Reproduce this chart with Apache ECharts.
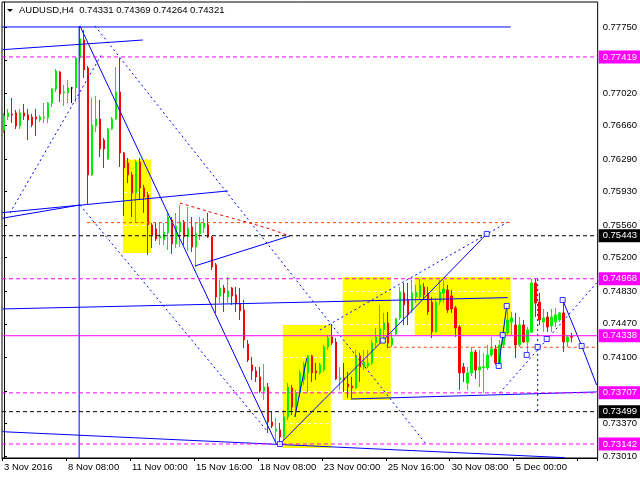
<!DOCTYPE html>
<html><head><meta charset="utf-8">
<script src="https://cdn.jsdelivr.net/npm/echarts@6/dist/echarts.min.js"></script>
<style>html,body{margin:0;padding:0;background:#fff}#c{width:640px;height:480px}</style>
</head><body><div id="c"></div>
<script>
const N_BARS = 149;
const xTickLabels = ['3 Nov 2016','8 Nov 08:00','11 Nov 00:00','15 Nov 16:00','18 Nov 08:00','23 Nov 00:00','25 Nov 16:00','30 Nov 08:00','5 Dec 00:00'];
const yTickValues = [0.77750,0.77380,0.77020,0.76660,0.76290,0.75930,0.75560,0.75200,0.74830,0.74470,0.74100,0.73730,0.73370,0.73010];
const yMin = 0.72987, yMax = 0.78026;

const opens = [0.76612,0.76756,0.76789,0.76800,0.76656,0.76800,0.76778,0.76756,0.76756,0.76722,
0.76744,0.76744,0.76910,0.77065,0.77253,0.77021,0.77021,0.77076,0.77076,0.77407,
0.77606,0.77297,0.76115,0.76656,0.76733,0.76501,0.76291,0.76623,0.76733,0.77032,
0.76358,0.76247,0.76115,0.75916,0.76258,0.75971,0.75894,0.75562,0.75518,0.75418,
0.75396,0.75474,0.75617,0.75352,0.75485,0.75595,0.75430,0.75540,0.75319,0.75463,
0.75529,0.75562,0.75430,0.75120,0.74778,0.74866,0.74766,0.74866,0.74789,0.74689,
0.74623,0.74247,0.74015,0.73949,0.73883,0.73728,0.73772,0.73385,0.73286,0.73297,
0.73219,0.73441,0.73761,0.73551,0.73706,0.73849,0.73927,0.74115,0.73949,0.73927,
0.73960,0.74214,0.74325,0.74269,0.73849,0.73871,0.73805,0.73783,0.73761,0.74115,
0.73993,0.74004,0.74037,0.74258,0.74325,0.74402,0.74479,0.74236,0.74358,0.74534,
0.74811,0.74733,0.74623,0.74766,0.74766,0.74877,0.74811,0.74711,0.74380,0.74711,
0.74811,0.74844,0.74778,0.74645,0.74435,0.73993,0.73816,0.73927,0.74159,0.73960,
0.73982,0.73982,0.74126,0.74192,0.74037,0.74236,0.74369,0.74490,0.74457,0.74236,
0.74457,0.74269,0.74380,0.74921,0.74711,0.74490,0.74545,0.74446,0.74490,0.74512,
0.74590,0.74269,0.74331];
const highs = [0.76800,0.76844,0.76965,0.76833,0.76844,0.76899,0.76844,0.76789,0.76844,0.76778,
0.76910,0.76921,0.77076,0.77286,0.77264,0.77109,0.77164,0.77087,0.77419,0.77760,
0.77717,0.77319,0.76965,0.76988,0.76943,0.76523,0.76634,0.76756,0.77308,0.77407,
0.76369,0.76302,0.76148,0.76280,0.76302,0.76004,0.75927,0.75584,0.75584,0.75584,
0.75584,0.75695,0.75650,0.75695,0.75783,0.75617,0.75761,0.75650,0.75584,0.75650,
0.75639,0.75695,0.75441,0.75142,0.74954,0.74899,0.74987,0.74877,0.74877,0.74866,
0.74733,0.74291,0.74104,0.73993,0.73993,0.74026,0.73816,0.73496,0.73429,0.73374,
0.73518,0.73816,0.73794,0.73739,0.73960,0.74048,0.74126,0.74126,0.74037,0.74037,
0.74236,0.74347,0.74457,0.74313,0.73993,0.74037,0.73938,0.73883,0.74181,0.74148,
0.74181,0.74181,0.74291,0.74424,0.74678,0.74590,0.74601,0.74369,0.74534,0.74877,
0.74921,0.74921,0.74954,0.74899,0.74965,0.74921,0.74877,0.74766,0.74755,0.74954,
0.74954,0.74899,0.74844,0.74667,0.74457,0.74037,0.73993,0.74214,0.74181,0.74181,
0.74148,0.74236,0.74325,0.74236,0.74291,0.74435,0.74645,0.74601,0.74590,0.74545,
0.74512,0.74435,0.74965,0.74965,0.74811,0.74634,0.74601,0.74634,0.74645,0.74601,
0.74755,0.74347,0.74369];
const lows = [0.76579,0.76722,0.76689,0.76623,0.76623,0.76722,0.76501,0.76645,0.76546,0.76700,
0.76689,0.76689,0.76866,0.77032,0.76921,0.76877,0.76910,0.76910,0.76921,0.77363,
0.77186,0.75783,0.76104,0.76590,0.76313,0.76192,0.76280,0.76612,0.76722,0.76203,
0.75662,0.76026,0.75650,0.75584,0.75838,0.75695,0.75231,0.75308,0.75385,0.75341,
0.75341,0.75286,0.75242,0.75308,0.75319,0.75341,0.75275,0.75264,0.75098,0.75396,
0.75474,0.75418,0.75065,0.74590,0.74700,0.74601,0.74700,0.74678,0.74601,0.74512,
0.74203,0.74048,0.73849,0.73827,0.73706,0.73628,0.73264,0.73319,0.73164,0.73142,
0.73186,0.73407,0.73463,0.73441,0.73662,0.73794,0.73706,0.73827,0.73849,0.73905,
0.73938,0.74181,0.74236,0.73849,0.73739,0.73717,0.73650,0.73650,0.73750,0.73827,
0.73960,0.73982,0.74015,0.74214,0.74258,0.74291,0.74203,0.74214,0.74347,0.74512,
0.74457,0.74457,0.74590,0.74700,0.74733,0.74733,0.74568,0.74313,0.74369,0.74678,
0.74700,0.74590,0.74590,0.74325,0.73739,0.73827,0.73739,0.73894,0.73860,0.73772,
0.73706,0.73960,0.74104,0.74015,0.74015,0.74214,0.74347,0.74347,0.74092,0.74214,
0.74258,0.74159,0.74369,0.74545,0.74457,0.74380,0.74380,0.74380,0.74435,0.74490,
0.74159,0.74214,0.74264];
const closes = [0.76767,0.76800,0.76778,0.76656,0.76800,0.76767,0.76722,0.76667,0.76733,0.76756,
0.76756,0.76910,0.77065,0.77264,0.77010,0.77032,0.77076,0.77076,0.77407,0.77617,
0.77275,0.76115,0.76667,0.76733,0.76402,0.76402,0.76623,0.76733,0.77032,0.76358,
0.76192,0.76115,0.75916,0.76258,0.75971,0.75871,0.75562,0.75452,0.75407,0.75441,
0.75485,0.75650,0.75352,0.75551,0.75595,0.75430,0.75529,0.75319,0.75463,0.75584,
0.75584,0.75430,0.75098,0.74766,0.74866,0.74811,0.74833,0.74778,0.74700,0.74612,
0.74291,0.74070,0.73949,0.73883,0.73728,0.73772,0.73385,0.73341,0.73308,0.73219,
0.73441,0.73772,0.73551,0.73706,0.73927,0.74026,0.74115,0.73927,0.73927,0.74015,
0.74214,0.74313,0.74258,0.73860,0.73871,0.73849,0.73772,0.73761,0.74104,0.73993,
0.74048,0.74037,0.74258,0.74325,0.74413,0.74479,0.74258,0.74313,0.74523,0.74822,
0.74678,0.74568,0.74811,0.74822,0.74899,0.74789,0.74601,0.74380,0.74711,0.74822,
0.74855,0.74623,0.74634,0.74424,0.73927,0.73927,0.73927,0.74159,0.73960,0.73993,
0.73993,0.74126,0.74192,0.74037,0.74236,0.74369,0.74512,0.74534,0.74236,0.74457,
0.74269,0.74402,0.74921,0.74700,0.74512,0.74534,0.74435,0.74545,0.74568,0.74590,
0.74269,0.74325,0.74321];
const dojiBars = [17];

// horizontal levels (price, colour, style)
const hLevels = [0.77419, 0.75443, 0.74968, 0.74338, 0.73707, 0.73499, 0.73142];
const hLevelColors = ['#ff00ff','#000000','#ff00ff','#ff00ff','#ff00ff','#000000','#ff00ff'];
const hLevelTypes = ['dashed','dashed','dashed','solid','dashed','dashed','dashed'];

// yellow boxes [barFrom, priceTop, barTo, priceBottom]
const boxes = [
  [29.75, 0.76291, 36.75, 0.75253],
  [69.75, 0.74457, 81.75, 0.73098],
  [84.75, 0.74987, 96.75, 0.73628],
  [102.75, 0.74987, 126.75, 0.74347]
];

// trend lines in (bar, price)
const solidLines = [
  [[-0.5,0.77750],[126.75,0.77750]],
  [[-0.5,0.77499],[34.75,0.77606]],
  [[18.8,0.77761],[18.8,0.72987]],
  [[19,0.77761],[68.25,0.73131]],
  [[-0.5,0.75698],[56,0.75938]],
  [[-0.5,0.75636],[19,0.75783]],
  [[-0.5,0.74634],[126,0.74759]],
  [[-0.5,0.73278],[140.25,0.72991]],
  [[86.75,0.73639],[148.25,0.73717]],
  [[47.75,0.75109],[71.5,0.75441]],
  [[72.75,0.73441],[75.75,0.74092]],
  [[123.75,0.74004],[125.75,0.74667]],
  [[139.75,0.74733],[144.5,0.74225],[148.25,0.73794]],
  [[69,0.73142],[94.75,0.74285],[120.75,0.75463]]
];
const dottedLines = [
  [[1.5,0.75695],[24.5,0.77452]],
  [[22.75,0.77761],[105.75,0.73131]],
  [[19,0.75783],[66,0.73275]],
  [[79,0.74402],[126.5,0.75606]],
  [[124,0.73706],[148.25,0.74921]],
  [[133.5,0.74965],[133.5,0.73474]]
];
const squarePoints = [[69,0.73142],[94.75,0.74285],[120.75,0.75463],[123.75,0.74004],[124.75,0.74347],[125.75,0.74667],
  [130.75,0.74126],[133.5,0.74214],[135.75,0.74302],[139.75,0.74733],[144.5,0.74225]];
const redArc = [[44,0.75805],[51.5,0.75706],[61.5,0.75584],[66.5,0.75518],[71.5,0.75441]];
const orangeLines = [
  [[20.75,0.75588],[126.5,0.75588]],
  [[96,0.74211],[148.25,0.74211]]
];

const UP = '#00ee00', DOWN = '#ff0000';
const FONT = 'Liberation Sans';

const categories = [];
for (let i = 0; i < N_BARS; i++) categories.push(String(i));

const candleData = opens.map((o, i) => {
  const item = { value: [o, closes[i], lows[i], highs[i]] };
  if (dojiBars.includes(i)) item.itemStyle = { color:'#000', color0:'#000', borderColor:'#000', borderColor0:'#000' };
  return item;
});

const series = [];
// yellow boxes
series.push({
  type: 'custom', xAxisIndex: 1, yAxisIndex: 0, z: 1, silent: true,
  data: boxes,
  encode: { x: [0, 2], y: [1, 3] },
  renderItem: (params, api) => {
    const p1 = api.coord([api.value(0), api.value(1)]);
    const p2 = api.coord([api.value(2), api.value(3)]);
    return { type: 'rect', shape: { x: Math.min(p1[0], p2[0]), y: Math.min(p1[1], p2[1]),
      width: Math.abs(p2[0] - p1[0]), height: Math.abs(p2[1] - p1[1]) }, style: { fill: '#ffff00' } };
  }
});
// dashed price grid clipped to the boxes (white, so it only shows over the yellow)
const gridSegs = [];
boxes.forEach(b => yTickValues.forEach(v => { if (v < b[1] && v > b[3]) gridSegs.push([b[0], v, b[2], v]); }));
series.push({
  type: 'custom', xAxisIndex: 1, yAxisIndex: 0, z: 1.5, silent: true,
  data: gridSegs,
  encode: { x: [0, 2], y: [1, 3] },
  renderItem: (params, api) => {
    const a = api.coord([api.value(0), api.value(1)]);
    const b = api.coord([api.value(2), api.value(3)]);
    const yy = Math.round(a[1]) + 0.5;
    return { type: 'line', shape: { x1: a[0] + 1, y1: yy, x2: b[0] - 1, y2: yy },
      style: { stroke: '#ffffff', lineWidth: 1, lineDash: [3, 3], fill: null } };
  }
});
series.push({
  type: 'candlestick', xAxisIndex: 0, yAxisIndex: 0, barWidth: 2, z: 2,
  data: candleData,
  itemStyle: { color: UP, color0: DOWN, borderColor: UP, borderColor0: DOWN, borderWidth: 1 }
});
solidLines.forEach(seg => series.push({
  type: 'line', xAxisIndex: 1, yAxisIndex: 0, data: seg, symbol: 'none', z: 4, silent: true,
  lineStyle: { color: '#0000ff', width: 1 }
}));
dottedLines.forEach(seg => series.push({
  type: 'line', xAxisIndex: 1, yAxisIndex: 0, data: seg, symbol: 'none', z: 4, silent: true,
  lineStyle: { color: '#0000ff', width: 1, type: [2, 3] }
}));
series.push({
  type: 'line', xAxisIndex: 1, yAxisIndex: 0, data: redArc, symbol: 'none', z: 4, silent: true,
  lineStyle: { color: '#e00000', width: 1, type: [3, 3] }
});
orangeLines.forEach(seg => series.push({
  type: 'line', xAxisIndex: 1, yAxisIndex: 0, data: seg, symbol: 'none', z: 4, silent: true,
  lineStyle: { color: '#ff4500', width: 1, type: [3, 3] }
}));
hLevels.forEach((p, i) => series.push({
  type: 'line', xAxisIndex: 1, yAxisIndex: 0, data: [[-0.5, p], [N_BARS - 0.5, p]], symbol: 'none', z: 5, silent: true,
  lineStyle: { color: hLevelColors[i], width: 1, type: hLevelTypes[i] === 'solid' ? 'solid' : [4, 3] },
  endLabel: { show: true, distance: 1, formatter: () => p.toFixed(5),
    color: '#fff', backgroundColor: hLevelColors[i], padding: [2, 3, 1, 4],
    fontFamily: FONT, fontSize: 9.5, lineHeight: 10 }
}));
series.push({
  type: 'scatter', xAxisIndex: 1, yAxisIndex: 0, data: squarePoints, symbol: 'rect', symbolSize: 5, z: 6, silent: true,
  itemStyle: { color: '#ffffff', borderColor: '#0000ff', borderWidth: 1 }
});

const chart = echarts.init(document.getElementById('c'), null, { renderer: 'canvas' });
chart.setOption({
  animation: false,
  backgroundColor: '#ffffff',
  textStyle: { fontFamily: FONT },
  grid: { left: 2, top: 2, width: 596, height: 456, show: true, borderColor: '#000', borderWidth: 1, backgroundColor: 'transparent' },
  graphic: [
    { type: 'polygon', shape: { points: [[7, 9], [13, 9], [10, 12]] }, style: { fill: '#000' }, z: 10 },
    { type: 'text', left: 19, top: 5, z: 10,
      style: { text: 'AUDUSD,H4  0.74331 0.74369 0.74264 0.74321', fill: '#000', font: '9.5px "Liberation Sans"' } }
  ],
  xAxis: [
    { type: 'category', data: categories, boundaryGap: true,
      axisLine: { show: true, lineStyle: { color: '#000' } },
      axisTick: { show: true, length: 3, interval: (i) => i % 16 === 0, lineStyle: { color: '#000' } },
      axisLabel: { interval: (i) => i % 16 === 0, formatter: (v, i) => xTickLabels[Math.round(i / 16)] || '',
        align: 'left', margin: 4, color: '#000', fontFamily: FONT, fontSize: 9.5 },
      splitLine: { show: false }
    },
    { type: 'value', min: -0.5, max: N_BARS - 0.5, show: false }
  ],
  yAxis: [{
    type: 'value', position: 'right', min: yMin, max: yMax, scale: true,
    axisLine: { show: true, lineStyle: { color: '#000' } },
    axisTick: { show: true, length: 3, customValues: yTickValues, lineStyle: { color: '#000' } },
    axisLabel: { customValues: yTickValues, formatter: (v) => v.toFixed(5), margin: 5, color: '#000', fontFamily: FONT, fontSize: 9.5 },
    splitLine: { show: false }
  }],
  series: series
});
</script></body></html>
